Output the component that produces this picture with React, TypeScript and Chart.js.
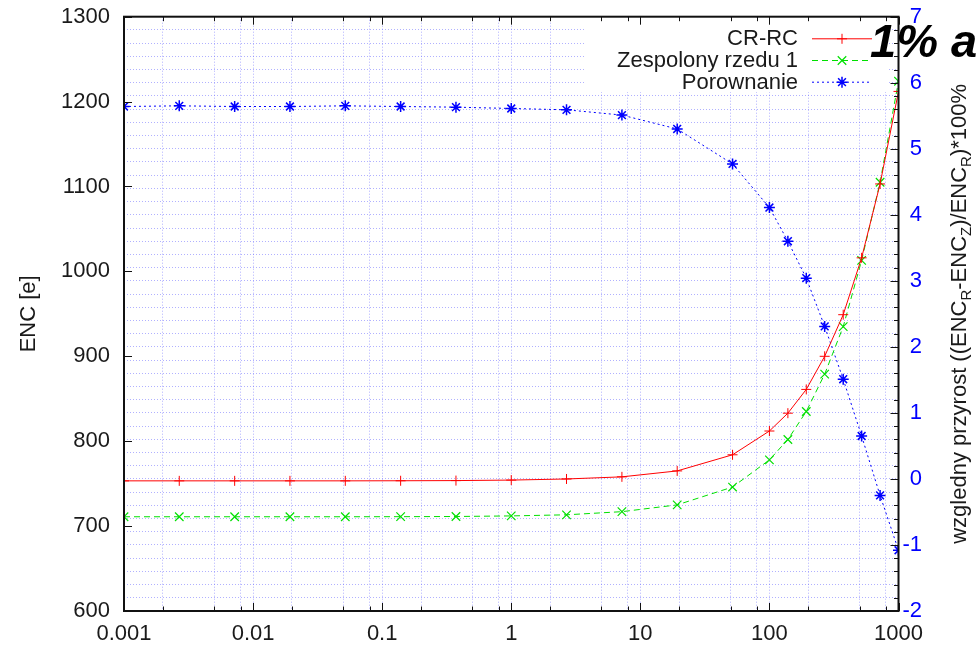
import { useEffect, useRef } from 'react';
import { Chart, registerables } from 'chart.js';

Chart.register(...registerables);

// ---------- data ----------
const xValues = [0.001, 0.00268, 0.0072, 0.0193, 0.0518, 0.139, 0.373, 1, 2.68, 7.2, 19.3, 51.8, 100, 139, 193, 268, 373, 518, 720, 1000];
const crRcValues = [753.3, 753.3, 753.3, 753.3, 753.3, 753.4, 753.6, 754.2, 755.5, 758, 765, 784, 812, 833, 861, 900, 949, 1016, 1103, 1212];
const zespolonyValues = [711, 711, 711, 711, 711, 711.1, 711.3, 712, 713.3, 717, 725, 746, 778, 802, 835, 879, 935, 1013, 1105, 1224];
const porownanieValues = [5.64, 5.65, 5.64, 5.64, 5.65, 5.64, 5.63, 5.61, 5.59, 5.51, 5.3, 4.77, 4.11, 3.6, 3.04, 2.31, 1.51, 0.65, -0.25, -1.08];

const seriesLabels = ['CR-RC', 'Zespolony rzedu 1', 'Porownanie'];

const xMajorTicks = [0.001, 0.01, 0.1, 1, 10, 100, 1000];
const xTickLabels = ['0.001', '0.01', '0.1', '1', '10', '100', '1000'];
const xMinorFactors = [2, 5, 8];

const yTicks = [600, 700, 800, 900, 1000, 1100, 1200, 1300];
const yTickLabels = ['600', '700', '800', '900', '1000', '1100', '1200', '1300'];

const y2Ticks = [-2, -1, 0, 1, 2, 3, 4, 5, 6, 7];
const y2TickLabels = ['-2', '-1', '0', '1', '2', '3', '4', '5', '6', '7'];
const y2MinorPerUnit = 5;

const leftTitle = 'ENC [e]';
const rightTitleParts: [string, boolean][] = [
  ['wzgledny przyrost ((ENC', false],
  ['R', true],
  ['-ENC', false],
  ['Z', true],
  [')/ENC', false],
  ['R', true],
  [')*100%', false],
];
const cornerText = '1% a';

// ---------- derived tick positions ----------
const xGridValues: number[] = [];
xMajorTicks.forEach((m, i) => {
  xGridValues.push(m);
  if (i < xMajorTicks.length - 1) xMinorFactors.forEach((f) => xGridValues.push(parseFloat((m * f).toPrecision(6))));
});
const y2GridValues: number[] = [];
for (let i = 0; i <= (y2Ticks[y2Ticks.length - 1] - y2Ticks[0]) * y2MinorPerUnit; i++) {
  y2GridValues.push(Math.round((y2Ticks[0] + i / y2MinorPerUnit) * 1000) / 1000);
}

const FONT = '"Liberation Sans", Arial, Helvetica, sans-serif';
const RED = '#ff0000';
const GREEN = '#00e000';
const BLUE = '#0000ff';
const GRID = 'rgba(100,100,255,0.5)';
const TEXT = '#1a1a1a';

function drawMarker(ctx: CanvasRenderingContext2D, style: string, x: number, y: number, r: number) {
  ctx.beginPath();
  if (style === 'cross' || style === 'star') {
    ctx.moveTo(x - r, y); ctx.lineTo(x + r, y);
    ctx.moveTo(x, y - r); ctx.lineTo(x, y + r);
  }
  if (style === 'crossRot' || style === 'star') {
    const d = r * Math.SQRT1_2;
    ctx.moveTo(x - d, y - d); ctx.lineTo(x + d, y + d);
    ctx.moveTo(x - d, y + d); ctx.lineTo(x + d, y - d);
  }
  ctx.stroke();
}

const decorPlugin = {
  id: 'decor',
  beforeDatasetsDraw(chart: any) {
    const { ctx, chartArea } = chart;
    ctx.save();
    ctx.fillStyle = '#ffffff';
    ctx.fillRect(584, chartArea.top + 1, 888 - 584, 91 - chartArea.top);
    ctx.restore();
  },
  afterDatasetsDraw(chart: any) {
    const { ctx, chartArea } = chart;
    const xs = chart.scales.x;
    const ys = chart.scales.y;
    const y2s = chart.scales.y2;
    ctx.save();

    // legend
    const rows = [38.3, 60, 81.7];
    ctx.font = `22px ${FONT}`;
    ctx.textAlign = 'right';
    ctx.textBaseline = 'middle';
    chart.data.datasets.forEach((ds: any, i: number) => {
      const y = rows[i];
      ctx.fillStyle = TEXT;
      ctx.fillText(ds.label, 798, y + 1);
      ctx.strokeStyle = ds.borderColor;
      ctx.lineWidth = 1;
      ctx.setLineDash(ds.borderDash || []);
      ctx.beginPath();
      ctx.moveTo(812, y + 0.5);
      ctx.lineTo(872, y + 0.5);
      ctx.stroke();
      ctx.setLineDash([]);
      ctx.lineWidth = ds.pointBorderWidth;
      drawMarker(ctx, ds.pointStyle, 842, y + 0.5, ds.pointRadius);
    });

    // border
    ctx.strokeStyle = '#111';
    ctx.lineWidth = 2;
    ctx.strokeRect(chartArea.left, chartArea.top, chartArea.right - chartArea.left, chartArea.bottom - chartArea.top);

    // inward ticks
    ctx.lineWidth = 1;
    ctx.beginPath();
    xGridValues.forEach((v) => {
      const px = Math.round(xs.getPixelForValue(v)) + 0.5;
      const major = xMajorTicks.some((m) => Math.abs(m - v) / m < 1e-6);
      const len = major ? 8 : 4.5;
      ctx.moveTo(px, chartArea.bottom); ctx.lineTo(px, chartArea.bottom - len);
      ctx.moveTo(px, chartArea.top); ctx.lineTo(px, chartArea.top + len);
    });
    yTicks.forEach((v) => {
      const py = Math.round(ys.getPixelForValue(v)) + 0.5;
      ctx.moveTo(chartArea.left, py); ctx.lineTo(chartArea.left + 8, py);
    });
    y2GridValues.forEach((v) => {
      const py = Math.round(y2s.getPixelForValue(v)) + 0.5;
      const major = Math.abs(v - Math.round(v)) < 1e-6;
      const len = major ? 8 : 4.5;
      ctx.moveTo(chartArea.right, py); ctx.lineTo(chartArea.right - len, py);
    });
    ctx.stroke();

    // axis titles
    const cy = (chartArea.top + chartArea.bottom) / 2;
    ctx.fillStyle = TEXT;
    ctx.save();
    ctx.translate(29, cy);
    ctx.rotate(-Math.PI / 2);
    ctx.textAlign = 'center';
    ctx.textBaseline = 'middle';
    ctx.font = `22px ${FONT}`;
    ctx.fillText(leftTitle, 0, 0);
    ctx.restore();

    ctx.save();
    ctx.translate(966, cy);
    ctx.rotate(-Math.PI / 2);
    ctx.textAlign = 'left';
    ctx.textBaseline = 'alphabetic';
    const normalFont = `22px ${FONT}`;
    const subFont = `15px ${FONT}`;
    let total = 0;
    rightTitleParts.forEach(([t, sub]) => {
      ctx.font = sub ? subFont : normalFont;
      total += ctx.measureText(t).width;
    });
    let x = -total / 2;
    rightTitleParts.forEach(([t, sub]) => {
      ctx.font = sub ? subFont : normalFont;
      ctx.fillText(t, x, sub ? 5 : 0);
      x += ctx.measureText(t).width;
    });
    ctx.restore();

    // corner text
    ctx.font = `italic bold 47px ${FONT}`;
    ctx.textAlign = 'left';
    ctx.textBaseline = 'alphabetic';
    ctx.fillStyle = '#000';
    ctx.fillText(cornerText, 870, 57);

    ctx.restore();
  },
};

function labelFor(v: number, values: number[], labels: string[]) {
  for (let i = 0; i < values.length; i++) {
    const ref = values[i];
    if (ref === 0 ? Math.abs(v) < 1e-9 : Math.abs(v - ref) / Math.abs(ref) < 1e-6) return labels[i];
  }
  return '';
}

export default function App() {
  const canvasRef = useRef<HTMLCanvasElement>(null);

  useEffect(() => {
    const canvas = canvasRef.current;
    if (!canvas) return;
    const chart = new Chart(canvas, {
      type: 'line',
      data: {
        datasets: [
          {
            label: seriesLabels[0],
            data: xValues.map((x, i) => ({ x, y: crRcValues[i] })),
            yAxisID: 'y',
            borderColor: RED,
            backgroundColor: RED,
            borderWidth: 1,
            pointStyle: 'cross',
            pointRadius: 5,
            pointBorderWidth: 1,
            pointBorderColor: RED,
            tension: 0,
            fill: false,
          },
          {
            label: seriesLabels[1],
            data: xValues.map((x, i) => ({ x, y: zespolonyValues[i] })),
            yAxisID: 'y',
            borderColor: GREEN,
            backgroundColor: GREEN,
            borderWidth: 1,
            borderDash: [6, 4],
            pointStyle: 'crossRot',
            pointRadius: 6,
            pointBorderWidth: 1.2,
            pointBorderColor: GREEN,
            tension: 0,
            fill: false,
          },
          {
            label: seriesLabels[2],
            data: xValues.map((x, i) => ({ x, y: porownanieValues[i] })),
            yAxisID: 'y2',
            borderColor: BLUE,
            backgroundColor: BLUE,
            borderWidth: 1,
            borderDash: [2, 3],
            pointStyle: 'star',
            pointRadius: 5.5,
            pointBorderWidth: 1.5,
            pointBorderColor: BLUE,
            tension: 0,
            fill: false,
          },
        ],
      } as any,
      options: {
        animation: false,
        responsive: false,
        maintainAspectRatio: false,
        events: [],
        layout: { padding: { left: 0, right: 54, top: 16.7, bottom: 0 } },
        plugins: { legend: { display: false }, tooltip: { enabled: false }, title: { display: false } },
        scales: {
          x: {
            type: 'logarithmic',
            position: 'bottom',
            min: xMajorTicks[0],
            max: xMajorTicks[xMajorTicks.length - 1],
            afterBuildTicks: (s: any) => { s.ticks = xGridValues.map((v) => ({ value: v })); },
            afterFit: (s: any) => { s.height = 41; s.paddingLeft = 0; s.paddingRight = 0; },
            grid: { display: true, drawOnChartArea: true, drawTicks: false, color: GRID, lineWidth: 1 },
            border: { display: false, dash: [1, 2] },
            ticks: {
              autoSkip: false,
              maxRotation: 0,
              minRotation: 0,
              padding: 10,
              color: TEXT,
              font: { family: FONT, size: 22 },
              callback: (v: any) => labelFor(Number(v), xMajorTicks, xTickLabels),
            },
          },
          y: {
            type: 'linear',
            position: 'left',
            min: yTicks[0],
            max: yTicks[yTicks.length - 1],
            afterBuildTicks: (s: any) => { s.ticks = yTicks.map((v) => ({ value: v })); },
            afterFit: (s: any) => { s.width = 124; s.paddingTop = 0; s.paddingBottom = 0; },
            grid: { display: false, drawTicks: false },
            border: { display: false },
            ticks: {
              autoSkip: false,
              padding: 14,
              crossAlign: 'near',
              color: TEXT,
              font: { family: FONT, size: 22 },
              callback: (v: any) => labelFor(Number(v), yTicks, yTickLabels),
            },
          },
          y2: {
            type: 'linear',
            position: 'right',
            min: y2Ticks[0],
            max: y2Ticks[y2Ticks.length - 1],
            afterBuildTicks: (s: any) => { s.ticks = y2GridValues.map((v) => ({ value: v })); },
            afterFit: (s: any) => { s.width = 23.5; s.paddingTop = 0; s.paddingBottom = 0; },
            grid: { display: true, drawOnChartArea: true, drawTicks: false, color: GRID, lineWidth: 1 },
            border: { display: false, dash: [1, 2] },
            ticks: {
              autoSkip: false,
              padding: 8,
              crossAlign: 'far',
              color: BLUE,
              font: { family: FONT, size: 22 },
              callback: (v: any) => labelFor(Number(v), y2Ticks, y2TickLabels),
            },
          },
        },
      } as any,
      plugins: [decorPlugin],
    });
    return () => chart.destroy();
  }, []);

  return (
    <div style={{ position: 'absolute', left: 0, top: 0, width: 976, height: 652, background: '#ffffff' }}>
      <canvas ref={canvasRef} width={976} height={652} style={{ display: 'block', width: 976, height: 652 }} />
    </div>
  );
}
